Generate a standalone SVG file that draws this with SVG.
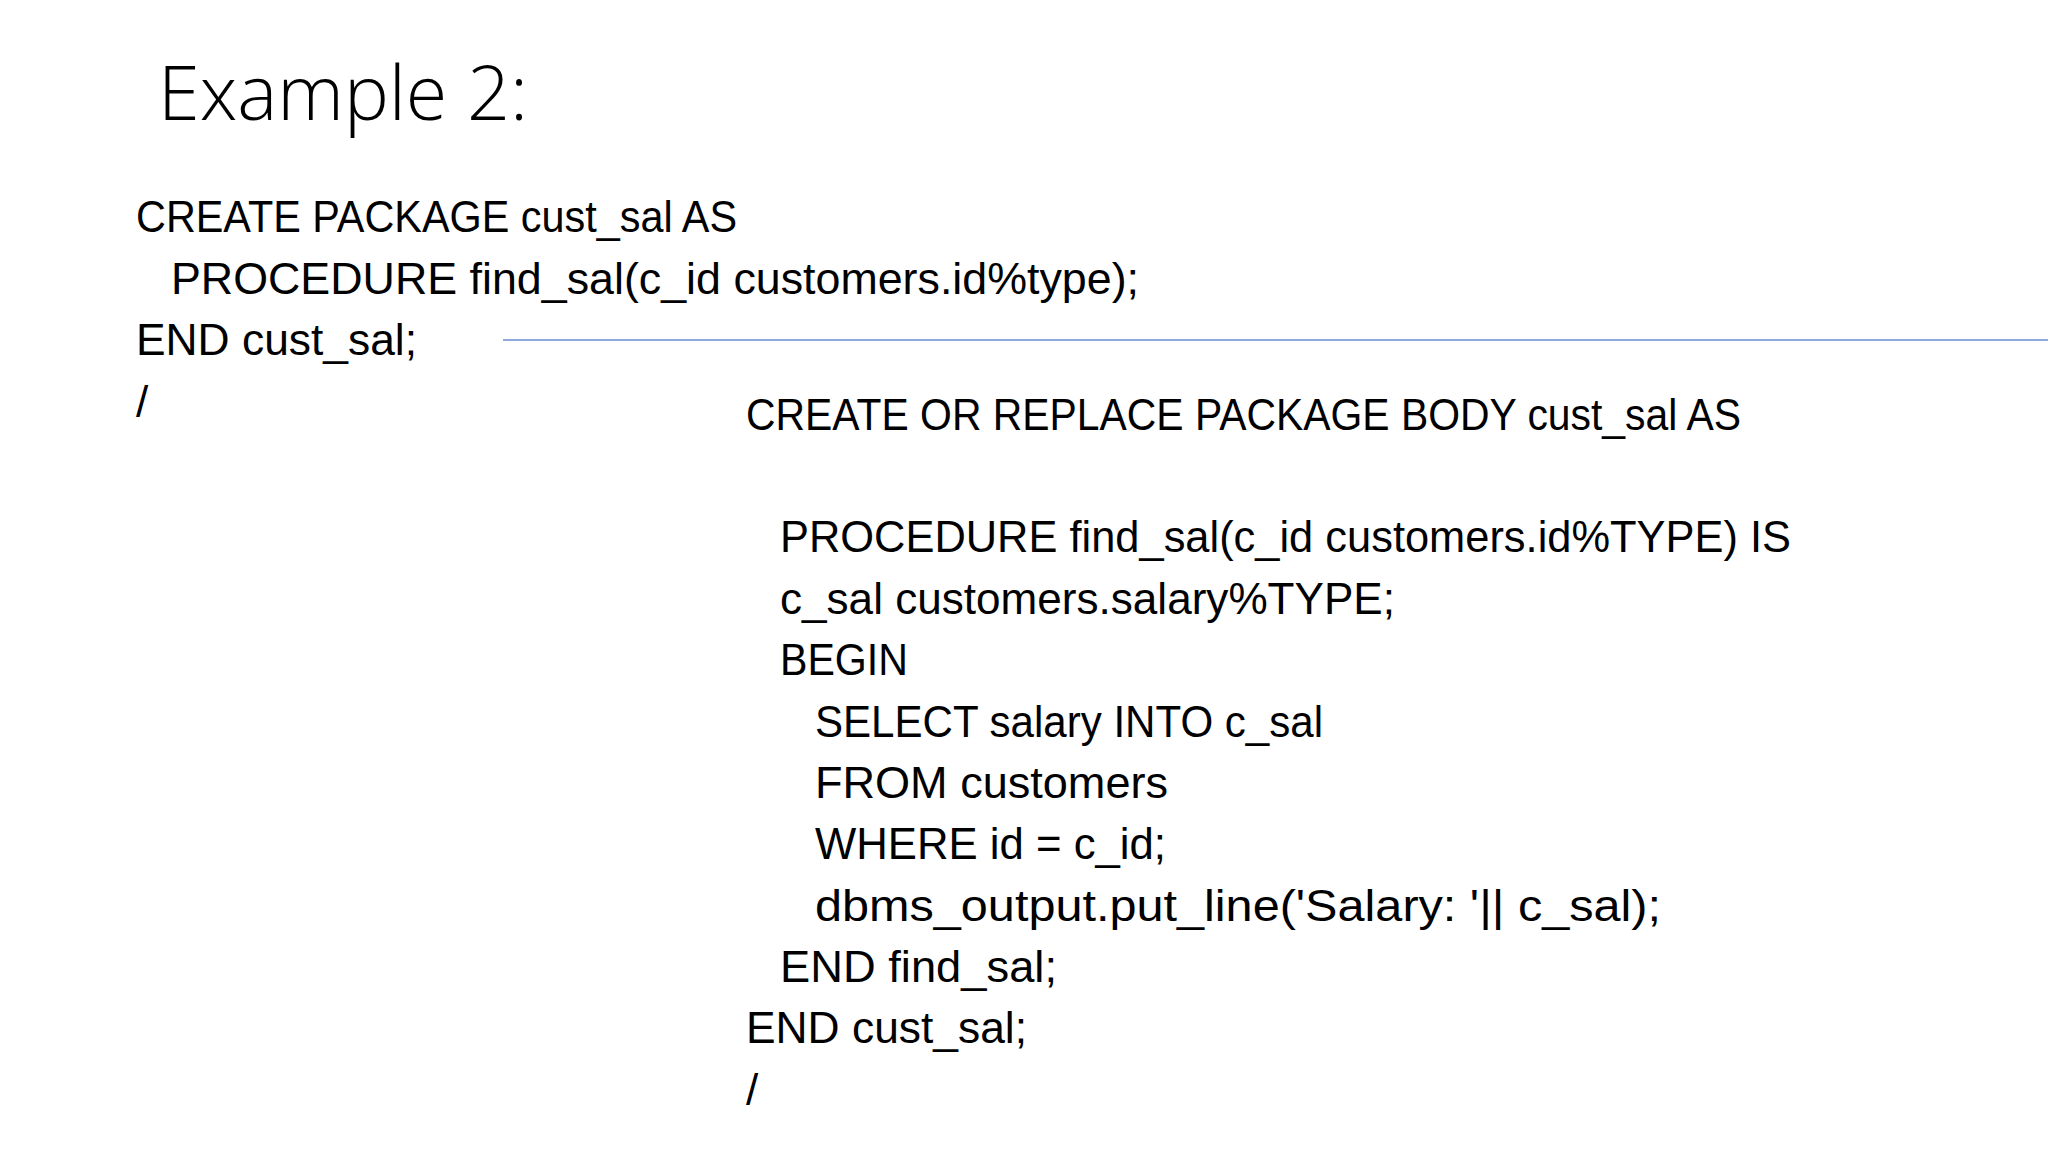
<svg xmlns="http://www.w3.org/2000/svg" width="2048" height="1152" viewBox="0 0 2048 1152">
<style>
.t{font-family:"Liberation Sans",Arial,sans-serif;font-size:44px;fill:#000}
.h{font-family:"Open Sans","Liberation Sans",sans-serif;font-weight:300;font-size:76px;fill:#000}
</style>
<rect width="2048" height="1152" fill="#fff"/>
<text class="h" x="158" y="120" textLength="370" lengthAdjust="spacingAndGlyphs">Example 2:</text>
<g id="spec">
<text class="t" x="136" y="232" textLength="601" lengthAdjust="spacingAndGlyphs">CREATE PACKAGE cust_sal AS</text>
<text class="t" x="171" y="294" textLength="968" lengthAdjust="spacingAndGlyphs">PROCEDURE find_sal(c_id customers.id%type);</text>
<text class="t" x="136" y="355" textLength="281" lengthAdjust="spacingAndGlyphs">END cust_sal;</text>
<text class="t" x="136" y="417">/</text>
</g>
<line x1="503" y1="340" x2="2048" y2="340" stroke="#8faadc" stroke-width="2"/>
<g id="body">
<text class="t" x="746" y="430" textLength="995" lengthAdjust="spacingAndGlyphs">CREATE OR REPLACE PACKAGE BODY cust_sal AS</text>
<text class="t" x="780" y="552" textLength="1011" lengthAdjust="spacingAndGlyphs">PROCEDURE find_sal(c_id customers.id%TYPE) IS</text>
<text class="t" x="780" y="614" textLength="615" lengthAdjust="spacingAndGlyphs">c_sal customers.salary%TYPE;</text>
<text class="t" x="780" y="675" textLength="128" lengthAdjust="spacingAndGlyphs">BEGIN</text>
<text class="t" x="815" y="737" textLength="508" lengthAdjust="spacingAndGlyphs">SELECT salary INTO c_sal</text>
<text class="t" x="815" y="798" textLength="353" lengthAdjust="spacingAndGlyphs">FROM customers</text>
<text class="t" x="815" y="859" textLength="351" lengthAdjust="spacingAndGlyphs">WHERE id = c_id;</text>
<text class="t" x="815" y="921" textLength="846" lengthAdjust="spacingAndGlyphs">dbms_output.put_line('Salary: '|| c_sal);</text>
<text class="t" x="780" y="982" textLength="277" lengthAdjust="spacingAndGlyphs">END find_sal;</text>
<text class="t" x="746" y="1043" textLength="281" lengthAdjust="spacingAndGlyphs">END cust_sal;</text>
<text class="t" x="746" y="1105">/</text>
</g>
</svg>
